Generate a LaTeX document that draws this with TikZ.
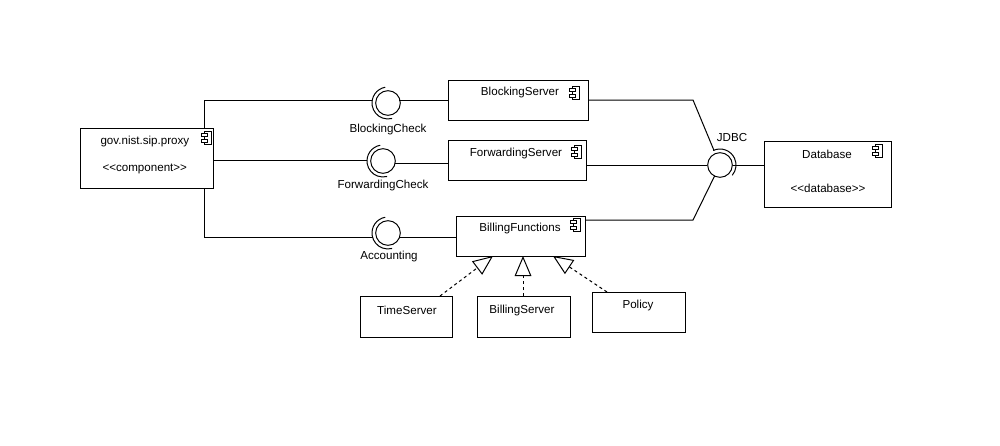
\documentclass[tikz,border=0pt]{standalone}
\usepackage{fontspec}
\setmainfont{Liberation Sans}
\usetikzlibrary{arrows.meta,fit}
\begin{document}
\begin{tikzpicture}[x=0.75pt,y=-0.75pt,line width=0.75pt,
  box/.style={draw,rectangle,inner sep=0pt,fit={#1}},
  lbl/.style={inner sep=0pt,font=\fontsize{8.7}{10}\selectfont},
  ball/.style={draw,circle,minimum size=18.5pt,inner sep=0pt},
  real/.style={dash pattern=on 2.25pt off 2.25pt,-{Triangle[open,length=15pt,width=12.5pt]}},
  compicon/.pic={
    \draw[fill=white] (-2.5,-6.5) rectangle (4,6.5);
    \draw[fill=white] (-5.5,-4.5) rectangle (0.5,-1.5);
    \draw[fill=white] (-5.5,1.5) rectangle (0.5,4.5);
  }]
\fill[white] (0,0) rectangle (1000,446);
\useasboundingbox (0,0) rectangle (1000,446);

% boxes
\node[box={(80,128) (213,188)}] (proxy) {};
\node[box={(448,80) (588,120)}] (bs) {};
\node[box={(448,140) (586,180)}] (fs) {};
\node[box={(456,216) (585,256)}] (bf) {};
\node[box={(764,141) (891,207)}] (db) {};
\node[box={(360,296) (452,337)}] (ts) {};
\node[box={(477,296) (570,337)}] (bsv) {};
\node[box={(592,292) (685,332)}] (pol) {};

% component icons
\pic at (207,138) {compicon};
\pic at (575,93) {compicon};
\pic at (577,152) {compicon};
\pic at (576,225) {compicon};
\pic at (878,151) {compicon};

% texts
\node[lbl,anchor=west] (t-proxy) at (100,141) {gov.nist.sip.proxy};
\node[lbl,anchor=west] (t-comp) at (102,169) {<\kern0pt<component>\kern0pt>};
\node[lbl] (t-bs) at (520,93) {BlockingServer};
\node[lbl] (t-fs) at (516,153) {ForwardingServer};
\node[lbl] (t-bf) at (520,228) {BillingFunctions};
\node[lbl] (t-db) at (827,154) {Database};
\node[lbl] (t-dbs) at (828,188) {<\kern0pt<database>\kern0pt>};
\node[lbl] (t-ts) at (407,310) {TimeServer};
\node[lbl] (t-bsv) at (522,310) {BillingServer};
\node[lbl] (t-pol) at (638,305) {Policy};
\node[lbl] (t-bc) at (388,129) {BlockingCheck};
\node[lbl] (t-fc) at (383,185) {ForwardingCheck};
\node[lbl] (t-ac) at (389,256) {Accounting};
\node[lbl] (t-jd) at (732,138) {JDBC};

% interfaces (balls)
\node[ball] (bc) at (388,103) {};
\node[ball] (fc) at (383,161) {};
\node[ball] (ac) at (388,233) {};
\node[ball] (jd) at (720,165) {};

% sockets
\draw ([shift={(-100:16)}]bc.center) arc[start angle=-100,end angle=-285,radius=16];
\draw ([shift={(-100:16)}]fc.center) arc[start angle=-100,end angle=-285,radius=16];
\draw ([shift={(-100:16)}]ac.center) arc[start angle=-100,end angle=-285,radius=16];
\draw ([shift={(-115:16)}]jd.center) arc[start angle=-115,end angle=40,radius=16];

% connection points
\coordinate (p-top) at (204,128);
\coordinate (p-bot) at (204,188);
\coordinate (bc-in) at (372.3,100);
\coordinate (bc-out) at (399.4,100);
\coordinate (fc-in) at (367,160);
\coordinate (fc-out) at (394.8,163);
\coordinate (ac-in) at (372.5,237);
\coordinate (ac-out) at (399.3,237);
\coordinate (k1) at (693,100);
\coordinate (jd-in1) at (713.9,150.2);
\coordinate (bf-out) at (585,220);
\coordinate (k2) at (693,220);
\coordinate (jd-in2) at (714.7,175.8);
\coordinate (ts-top) at (440,296);
\coordinate (bsv-top) at (523,296);
\coordinate (pol-top) at (607,292);
\coordinate (bf-a1) at (493,256);
\coordinate (bf-a2) at (523,256);
\coordinate (bf-a3) at (553,256);

% connectors
\draw (p-top) |- (bc-in);
\draw (bc-out) -- (bc-out -| bs.west);
\draw (fc-in -| proxy.east) -- (fc-in);
\draw (fc-out) -- (fc-out -| fs.west);
\draw (p-bot) |- (ac-in);
\draw (ac-out) -- (ac-out -| bf.west);
\draw (bs.east) -- (k1) -- (jd-in1);
\draw (fs.east |- jd) -- (jd.west);
\draw (bf-out) -- (k2) -- (jd-in2);
\draw (jd.east) -- (db.west |- jd);

% realizations
\draw[real] (ts-top) -- (bf-a1);
\draw[real] (bsv-top) -- (bf-a2);
\draw[real] (pol-top) -- (bf-a3);
\end{tikzpicture}
\end{document}
